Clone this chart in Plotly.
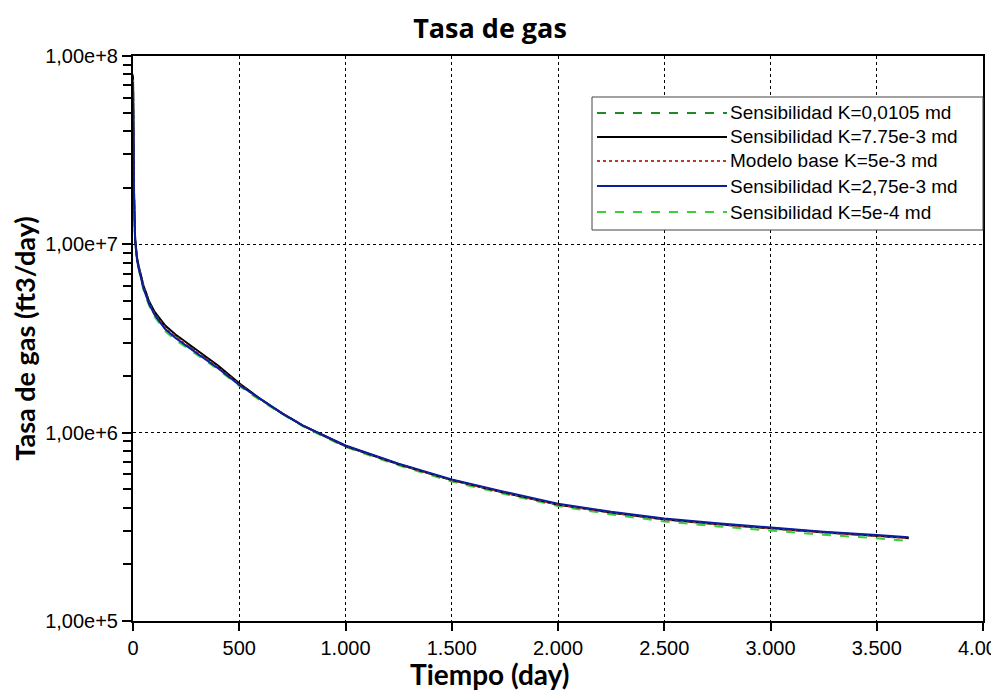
import plotly.graph_objects as go

# ---- data ----
tiempo = [0, 1, 2, 5, 10, 20, 35, 50, 75, 100, 150, 200, 250, 300, 350, 400, 500, 600, 700,
          800, 900, 1000, 1250, 1500, 1750, 2000, 2250, 2500, 2750, 3000, 3250, 3500, 3650]

k_0105 = [8.0e7, 4.6e7, 3.3e7, 1.85e7, 1.07e7, 8.3e6, 7.0e6, 6.0e6, 5.0e6, 4.4e6, 3.68e6, 3.28e6,
          2.98e6, 2.72e6, 2.48e6, 2.25e6, 1.82e6, 1.51e6, 1.27e6, 1.09e6, 9.6e5, 8.5e5, 6.8e5,
          5.6e5, 4.8e5, 4.15e5, 3.76e5, 3.46e5, 3.26e5, 3.09e5, 2.95e5, 2.83e5, 2.75e5]
k_775e3 = [7.8e7, 4.6e7, 3.3e7, 1.85e7, 1.07e7, 8.3e6, 7.0e6, 6.0e6, 5.0e6, 4.4e6, 3.72e6, 3.32e6,
           3.02e6, 2.76e6, 2.5e6, 2.27e6, 1.83e6, 1.51e6, 1.27e6, 1.09e6, 9.6e5, 8.5e5, 6.8e5,
           5.6e5, 4.8e5, 4.16e5, 3.77e5, 3.47e5, 3.27e5, 3.1e5, 2.96e5, 2.84e5, 2.76e5]
k_base = [7.5e7, 4.5e7, 3.2e7, 1.8e7, 1.05e7, 8.2e6, 6.9e6, 5.9e6, 4.9e6, 4.3e6, 3.62e6, 3.24e6,
          2.95e6, 2.68e6, 2.45e6, 2.22e6, 1.8e6, 1.5e6, 1.27e6, 1.09e6, 9.6e5, 8.5e5, 6.8e5,
          5.6e5, 4.8e5, 4.15e5, 3.76e5, 3.46e5, 3.26e5, 3.09e5, 2.95e5, 2.83e5, 2.75e5]
k_275e3 = [7.2e7, 4.4e7, 3.1e7, 1.78e7, 1.04e7, 8.1e6, 6.8e6, 5.8e6, 4.85e6, 4.25e6, 3.56e6, 3.18e6,
           2.9e6, 2.65e6, 2.43e6, 2.2e6, 1.79e6, 1.5e6, 1.27e6, 1.09e6, 9.65e5, 8.55e5, 6.85e5,
           5.65e5, 4.85e5, 4.2e5, 3.8e5, 3.5e5, 3.3e5, 3.13e5, 2.98e5, 2.86e5, 2.78e5]
k_5e4 = [7.0e7, 4.3e7, 3.0e7, 1.75e7, 1.03e7, 8.0e6, 6.7e6, 5.7e6, 4.75e6, 4.15e6, 3.48e6, 3.1e6,
         2.84e6, 2.6e6, 2.38e6, 2.17e6, 1.77e6, 1.48e6, 1.26e6, 1.08e6, 9.5e5, 8.4e5, 6.7e5,
         5.5e5, 4.72e5, 4.08e5, 3.68e5, 3.38e5, 3.18e5, 3.01e5, 2.87e5, 2.75e5, 2.66e5]

series_names = ["Sensibilidad K=0,0105 md", "Sensibilidad K=7.75e-3 md", "Modelo base K=5e-3 md",
                "Sensibilidad K=2,75e-3 md", "Sensibilidad K=5e-4 md"]
series_values = [k_0105, k_775e3, k_base, k_275e3, k_5e4]

# ---- styles ----
styles = [
    dict(color="#1f8a2a", dash="dash", width=2),
    dict(color="#000000", dash="solid", width=2),
    dict(color="#c0392b", dash="dot", width=2),
    dict(color="#0a1fa0", dash="solid", width=2),
    dict(color="#3ccf3c", dash="dash", width=2),
]
draw_order = [4, 0, 1, 2, 3]

fig = go.Figure()
for i in draw_order:
    fig.add_trace(go.Scatter(x=tiempo, y=series_values[i], mode="lines", name=series_names[i],
                             line=styles[i], showlegend=False))

# page offset (body margin) is 8px; work in screenshot pixel coordinates
OFF = 8
W, H = 991, 690
ml, mr, mt, mb = 125, 16, 48, 77
pw, ph = W - ml - mr, H - mt - mb

def px(x):
    return (x - OFF - ml) / pw

def py(y):
    return (H - mb - (y - OFF)) / ph

shapes = []
annotations = []
# legend box
shapes.append(dict(type="rect", xref="paper", yref="paper", x0=px(592), x1=px(983),
                   y0=py(230), y1=py(97), line=dict(color="#444444", width=1),
                   fillcolor="white", layer="above"))
row_y = [113, 137, 161, 186, 212]
for k in range(5):
    st = styles[k]
    shapes.append(dict(type="line", xref="paper", yref="paper", x0=px(597), x1=px(727),
                       y0=py(row_y[k]), y1=py(row_y[k]),
                       line=dict(color=st["color"], dash=st["dash"], width=2), layer="above"))
    annotations.append(dict(xref="paper", yref="paper", x=px(728), y=py(row_y[k]),
                            xanchor="left", yanchor="middle", showarrow=False,
                            text=series_names[k],
                            font=dict(family="Liberation Sans, Arial", size=19, color="black")))

# x-axis title (centred on the page as in the original, not on the plot area)
annotations.append(dict(xref="paper", yref="paper", x=px(490), y=py(674),
                        xanchor="center", yanchor="middle", showarrow=False,
                        text="<b>Tiempo (day)</b>",
                        font=dict(family="Lato", size=28, color="black")))

fig.update_layout(
    width=W, height=H,
    margin=dict(l=ml, r=mr, t=mt, b=mb, autoexpand=False),
    paper_bgcolor="white", plot_bgcolor="white",
    separators=",.",
    title=dict(text="<b>Tasa de gas</b>", x=(490 - OFF) / W, xanchor="center",
               y=1 - (29 - OFF) / H, yanchor="middle",
               font=dict(family="Open Sans", size=27, color="black")),
    font=dict(family="Liberation Sans, Arial", size=20, color="black"),
    shapes=shapes, annotations=annotations,
    xaxis=dict(range=[0, 4000], dtick=500, tick0=0, tickformat=",d",
               ticklabeloverflow="allow",
               showgrid=True, gridcolor="black", griddash="3px,3px", gridwidth=1,
               showline=True, linecolor="black", linewidth=2, mirror=True,
               ticks="outside", ticklen=8, tickwidth=2, tickcolor="black",
               zeroline=False),
    yaxis=dict(type="log", range=[5, 8], dtick=1, tickformat=".2e",
               showgrid=True, gridcolor="black", griddash="3px,3px", gridwidth=1,
               showline=True, linecolor="black", linewidth=2, mirror=True,
               ticks="outside", ticklen=9, tickwidth=2, tickcolor="black",
               minor=dict(ticks="outside", ticklen=8, tickwidth=2, tickcolor="black",
                          dtick="D1", showgrid=False),
               zeroline=False,
               title=dict(text="<b>Tasa de gas (ft3/day)</b>", standoff=4,
                          font=dict(family="Lato", size=27, color="black"))),
)

fig.write_html("out.html")
